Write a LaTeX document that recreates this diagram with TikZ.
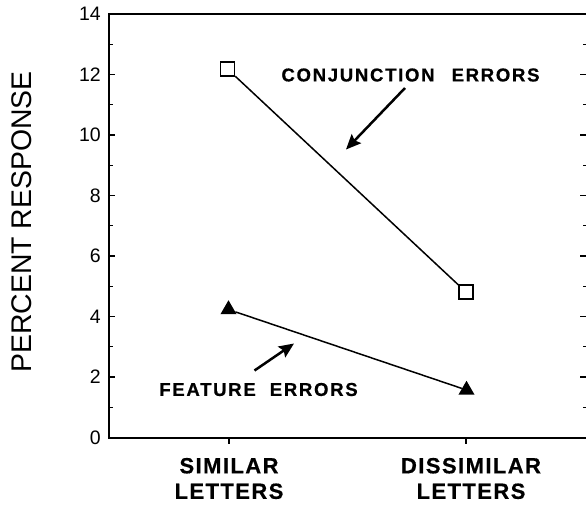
\documentclass[tikz,border=0pt]{standalone}
\usepackage{fontspec}
\setmainfont{Liberation Sans}
\newfontfamily\errfont[LetterSpace=9,FakeBold=0.6]{Liberation Sans Bold}
\newfontfamily\catfont[LetterSpace=6.5,FakeBold=0.6]{Liberation Sans Bold}
\usetikzlibrary{arrows.meta,shapes.geometric}
\begin{document}
\begin{tikzpicture}[x=1pt,y=-1pt,
  axisline/.style={line width=2pt},
  tickline/.style={line width=1.3pt},
  dataline/.style={line width=1.5pt},
  callout/.style={line width=2.5pt,-{Stealth[length=15pt,width=13pt,inset=2.5pt]}},
  sqmark/.style={draw,fill=white,minimum size=14pt,inner sep=0pt,line width=1.5pt},
  trimark/.style={regular polygon,regular polygon sides=3,fill=black,minimum size=18.5pt,inner sep=0pt},
  numlabel/.style={anchor=east,inner sep=0pt,font=\fontsize{19.5}{21}\selectfont},
  errlabel/.style={inner sep=0pt,font=\errfont\fontsize{18.6}{20}\selectfont},
  catlabel/.style={inner sep=0pt,align=center,font=\catfont\fontsize{22}{25.5}\selectfont}
]
\useasboundingbox (0,0) rectangle (586,504);
% frame
\draw[axisline] (586,14) -- (108.5,14) -- (108.5,437.5) -- (586,437.5);
% y ticks and labels
\foreach \v in {0,2,...,14} {
  \pgfmathsetmacro{\yy}{437.5-30.25*\v}
  \draw[tickline] (108.5,\yy) -- (115,\yy);
  \draw[tickline] (580,\yy) -- (586,\yy);
  \node[numlabel] (lab\v) at (101,\yy) {\v};
}
\foreach \v in {1,3,...,13} {
  \pgfmathsetmacro{\yy}{437.5-30.25*\v}
  \draw[tickline] (108.5,\yy) -- (113,\yy);
  \draw[tickline] (583,\yy) -- (586,\yy);
}
% x ticks
\draw[tickline] (229,437.5) -- (229,444);
\draw[tickline] (466,437.5) -- (466,444);
% axis titles
\node[rotate=90,inner sep=0pt,font=\fontsize{28.4}{30}\selectfont] (ylab) at (22,222) {PERCENT RESPONSE};
\node[catlabel] (cat1) at (229,478.5) {SIMILAR\\LETTERS};
\node[catlabel] (cat2) at (471,478.5) {DISSIMILAR\\LETTERS};
% data
\node[sqmark] (sq1) at (227.5,69) {};
\node[sqmark] (sq2) at (466,292) {};
\node[trimark] (tr1) at (228.5,309.5) {};
\node[trimark] (tr2) at (466.5,390) {};
\draw[dataline] (sq1) -- (sq2);
\draw[dataline] (tr1) -- (tr2);
% labels
\node[errlabel] (conj) at (410.5,75) {CONJUNCTION\hspace{17pt}ERRORS};
\node[errlabel] (feat) at (258.5,389.5) {FEATURE\hspace{14pt}ERRORS};
\coordinate (ca1) at (405,88);
\coordinate (ca2) at (346,149.5);
\coordinate (fa1) at (254.5,370.5);
\coordinate (fa2) at (294,343.5);
\draw[callout] (ca1) -- (ca2);
\draw[callout] (fa1) -- (fa2);
\end{tikzpicture}
\end{document}
